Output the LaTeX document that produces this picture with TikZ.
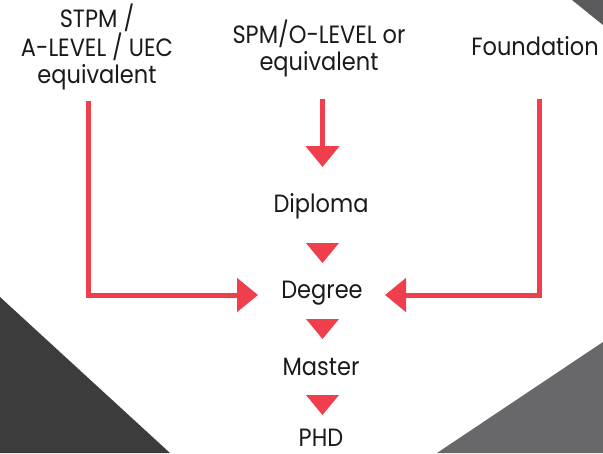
\documentclass[tikz,border=0pt]{standalone}
\usepackage{fontspec}
\setmainfont[FakeStretch=0.9]{Poppins}
\usetikzlibrary{arrows.meta}
\definecolor{redline}{HTML}{EF3E4C}
\definecolor{txt}{HTML}{1A1A1A}
\definecolor{darkbl}{HTML}{3C3C3C}
\definecolor{greybr}{HTML}{68686A}
\definecolor{greytr}{HTML}{5A5A5C}
\begin{document}
\begin{tikzpicture}[x=1pt,y=-1pt,
  lbl/.style={font=\fontsize{25}{27}\selectfont, text=txt, align=center, inner sep=0pt, anchor=base},
  conn/.style={draw=redline, line width=5pt, -{Triangle[length=21pt,width=33pt]}},
  tri/.style={fill=redline}]
\useasboundingbox (0,0) rectangle (603,453);
\fill[white] (0,0) rectangle (603,453);
% background triangles
\fill[darkbl] (0,297) -- (0,453) -- (170,453) -- cycle;
\fill[greybr] (603,342) -- (603,453) -- (437,453) -- cycle;
\fill[greytr] (572,0) -- (603,0) -- (603,25) -- cycle;
% labels (anchor base = baseline of last line)
\node[lbl] (stpm) at (97,83) {STPM /\\A-LEVEL / UEC\\equivalent};
\node[lbl] (spm) at (319,70) {SPM/O-LEVEL or\\equivalent};
\node[lbl] (found) at (535,55) {Foundation};
\node[lbl] (diploma) at (321,212) {Diploma};
\node[lbl] (degree) at (322,298) {Degree};
\node[lbl] (master) at (321,375) {Master};
\node[lbl] (phd) at (321,446) {PHD};
% connector coordinates
\coordinate (ls) at (88.5,101);
\coordinate (le) at (258,295);
\coordinate (ms) at (322.5,99);
\coordinate (me) at (322.5,167);
\coordinate (rs) at (539.5,99);
\coordinate (re) at (385,295);
\draw[conn] (ls) |- (le);
\draw[conn] (ms) -- (me);
\draw[conn] (rs) |- (re);
% small triangles
\fill[tri] (306,243) -- (339,243) -- (322.5,263) -- cycle;
\fill[tri] (306,319) -- (339,319) -- (322.5,339) -- cycle;
\fill[tri] (306,395) -- (339,395) -- (322.5,415) -- cycle;
\end{tikzpicture}
\end{document}
